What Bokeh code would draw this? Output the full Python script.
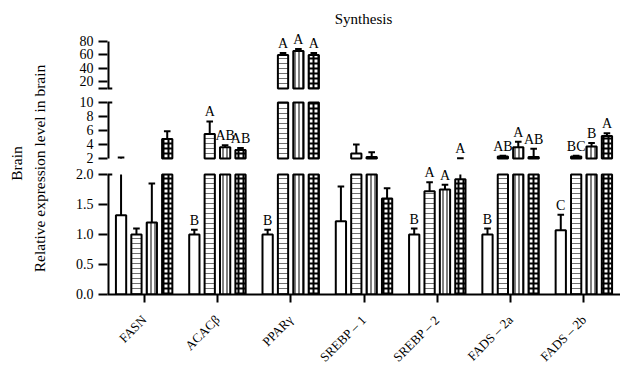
import math
from bokeh.plotting import figure
from bokeh.layouts import row
from bokeh.models import ColumnDataSource, FactorRange, Range1d, FixedTicker, Label
from bokeh.transform import dodge
from bokeh.core.properties import value
from bokeh.embed import file_html
from bokeh.resources import INLINE

# ---------------- data ----------------
genes = ["FASN", "ACACβ", "PPARγ", "SREBP – 1", "SREBP – 2", "FADS – 2a", "FADS – 2b"]

g1_mean = [1.32, 1.00, 1.00, 1.22, 1.00, 1.00, 1.07]
g1_upper = [2.15, 1.08, 1.08, 1.80, 1.10, 1.10, 1.33]
g1_letter = ["", "B", "B", "", "B", "B", "C"]

g2_mean = [1.00, 5.5, 60.0, 2.7, 1.72, 2.3, 2.3]
g2_upper = [1.10, 7.3, 63.0, 4.0, 1.87, 2.4, 2.4]
g2_letter = ["", "A", "A", "", "A", "AB", "BC"]

g3_mean = [1.20, 3.6, 66.0, 2.2, 1.75, 3.6, 3.7]
g3_upper = [1.85, 3.9, 69.0, 2.9, 1.83, 4.4, 4.2]
g3_letter = ["", "AB", "A", "", "A", "A", "B"]

g4_mean = [4.8, 3.2, 60.0, 1.60, 1.92, 2.2, 5.2]
g4_upper = [5.9, 3.5, 63.0, 1.77, 2.05, 3.4, 5.6]
g4_letter = ["", "AB", "A", "", "A", "AB", "A"]

bottom_ticks = [0.0, 0.5, 1.0, 1.5, 2.0]
bottom_tick_labels = ["0.0", "0.5", "1.0", "1.5", "2.0"]
middle_ticks = [2, 4, 6, 8, 10]
middle_tick_labels = ["2", "4", "6", "8", "10"]
top_ticks = [20, 40, 60, 80]
top_tick_labels = ["20", "40", "60", "80"]

title_text = "Synthesis"
y_title_outer = "Brain"
y_title_inner = "Relative expression level in brain"

# ---------------- layout ----------------
TOTAL_W, H = 620, 373
SIDE_W = 60                 # strip holding the rotated y titles
W = TOTAL_W - SIDE_W
LEFT, BOTTOM = 47, 79
FRAME_H = H - BOTTOM
FONT = "Liberation Serif"

# (range name, low value, high value, low px, high px)  px measured up from frame bottom
segments = [
    ("default", 0.0, 2.0, 0.0, 120.0),
    ("mid", 2.0, 10.0, 136.0, 192.0),
    ("top", 10.0, 80.0, 206.0, 253.0),
]
BASE_SCALE = (segments[0][4] - segments[0][3]) / (segments[0][2] - segments[0][1])


def make_range(lo, hi, plo, phi):
    s = (phi - plo) / (hi - lo)
    start = lo - plo / s
    return Range1d(start, start + FRAME_H / s)


def virt(seg, v):
    _, lo, hi, plo, phi = seg
    return (plo + (v - lo) * (phi - plo) / (hi - lo)) / BASE_SCALE


p = figure(width=W, height=H, x_range=FactorRange(*genes),
           y_range=make_range(*segments[0][1:]),
           output_backend="svg", toolbar_location=None,
           min_border_left=LEFT, min_border_right=0, min_border_top=0, min_border_bottom=BOTTOM)
p.extra_y_ranges = {seg[0]: make_range(*seg[1:]) for seg in segments[1:]}
p.outline_line_color = None
p.xgrid.visible = False
p.ygrid.visible = False
p.background_fill_color = "white"

# y axis (single axis, broken into three pieces)
tick_pos, overrides = [], {}
for seg, ticks, labs in [(segments[0], bottom_ticks, bottom_tick_labels),
                         (segments[1], middle_ticks, middle_tick_labels),
                         (segments[2], top_ticks, top_tick_labels)]:
    for t, l in zip(ticks, labs):
        v = virt(seg, t)
        tick_pos.append(v)
        overrides[v] = l
v10 = virt(segments[2], segments[2][1])
tick_pos.append(v10)
overrides[v10] = " "

ya = p.yaxis[0]
ya.ticker = FixedTicker(ticks=tick_pos)
ya.major_label_overrides = overrides
ya.axis_line_color = None
ya.major_tick_out = 9
ya.major_tick_in = 0
ya.major_tick_line_width = 2
ya.minor_tick_line_color = None
ya.major_label_text_font = FONT
ya.major_label_text_font_size = "14px"
ya.major_label_text_color = "black"
ya.major_label_standoff = 5

xa = p.xaxis[0]
xa.axis_line_width = 2
xa.major_tick_out = 8
xa.major_tick_in = 0
xa.major_tick_line_width = 2
xa.major_label_orientation = math.pi / 4
xa.major_label_text_font = FONT
xa.major_label_text_font_size = "13px"
xa.major_label_text_color = "black"
xa.major_label_standoff = 15

# axis line pieces and inner end caps
for name, lo, hi, plo, phi in segments:
    p.segment(x0=0, y0=lo, x1=0, y1=hi, y_range_name=name, line_color="black", line_width=4)
for name, yv in [("default", 2.0), ("mid", 10.0), ("top", 10.0)]:
    p.segment(x0=0, y0=yv, x1=0.065, y1=yv, y_range_name=name, line_color="black", line_width=2)

series = [(g1_mean, g1_upper, g1_letter), (g2_mean, g2_upper, g2_letter),
          (g3_mean, g3_upper, g3_letter), (g4_mean, g4_upper, g4_letter)]
offsets = [-0.315, -0.105, 0.105, 0.315]
styles = [
    dict(fill_color="white"),
    dict(fill_color="white", hatch_pattern="horizontal_line", hatch_scale=5, hatch_weight=1, hatch_color="#707070"),
    dict(fill_color="white", hatch_pattern="vertical_line", hatch_scale=4, hatch_weight=1.3, hatch_color="#3a3a3a"),
    dict(fill_color="white", hatch_pattern="cross", hatch_scale=5, hatch_weight=2, hatch_color="black"),
]

for k, (means, uppers, letters) in enumerate(series):
    off = offsets[k]
    for name, lo, hi, plo, phi in segments:
        bars = dict(gene=[], top=[])
        stems = dict(gene=[], y0=[], y1=[])
        caps = dict(gene=[], y=[])
        labs = dict(gene=[], y=[], text=[])
        for g, m, u, l in zip(genes, means, uppers, letters):
            if m > lo:
                bars["gene"].append(g); bars["top"].append(min(m, hi))
            s0, s1 = max(m, lo), min(u, hi)
            if s1 > s0:
                stems["gene"].append(g); stems["y0"].append(s0); stems["y1"].append(s1)
            if lo < u <= hi:
                caps["gene"].append(g); caps["y"].append(u)
            peak = max(m, u)
            if l and (lo < peak <= hi or (lo == 0 and peak <= hi)):
                labs["gene"].append(g); labs["y"].append(peak); labs["text"].append(l)
        xb = dodge("gene", off, range=p.x_range)
        p.vbar(x=xb, top="top", bottom=lo, width=0.14, source=ColumnDataSource(bars),
               y_range_name=name, line_color="black", line_width=2, **styles[k])
        p.segment(x0=xb, y0="y0", x1=xb, y1="y1", source=ColumnDataSource(stems),
                  y_range_name=name, line_color="black", line_width=2)
        p.segment(x0=dodge("gene", off - 0.045, range=p.x_range), y0="y",
                  x1=dodge("gene", off + 0.045, range=p.x_range), y1="y",
                  source=ColumnDataSource(caps), y_range_name=name, line_color="black", line_width=2)
        p.text(x=xb, y="y", text="text", source=ColumnDataSource(labs), y_range_name=name,
               text_font=FONT, text_font_size="14px", text_align="center",
               text_baseline="bottom", y_offset=-2, text_color="black")

# chart title (inside the frame, above the top panel)
p.add_layout(Label(x=256, y=276, x_units="screen", y_units="screen", text=title_text,
                   text_align="center", text_baseline="middle", text_font=FONT,
                   text_font_size="15px", text_color="black"))

# side strip with the rotated y titles (same vertical frame as the chart)
side = figure(width=SIDE_W, height=H, x_range=Range1d(0, SIDE_W), y_range=Range1d(0, FRAME_H),
              output_backend="svg", toolbar_location=None,
              x_axis_location=None, y_axis_location=None,
              min_border_left=0, min_border_right=0, min_border_top=0, min_border_bottom=BOTTOM)
side.xgrid.visible = False
side.ygrid.visible = False
side.outline_line_color = None
side.text(x=[15.5], y=[FRAME_H - 163], text=[y_title_outer], angle=math.pi / 2,
          text_font=value(FONT), text_font_size="15.5px", text_align="center",
          text_baseline="middle", text_color="black")
side.text(x=[38.5], y=[FRAME_H - 168], text=[y_title_inner], angle=math.pi / 2,
          text_font=value(FONT), text_font_size="15.5px", text_align="center",
          text_baseline="middle", text_color="black")

layout = row(side, p)
open("out.html", "w").write(file_html(layout, INLINE))
